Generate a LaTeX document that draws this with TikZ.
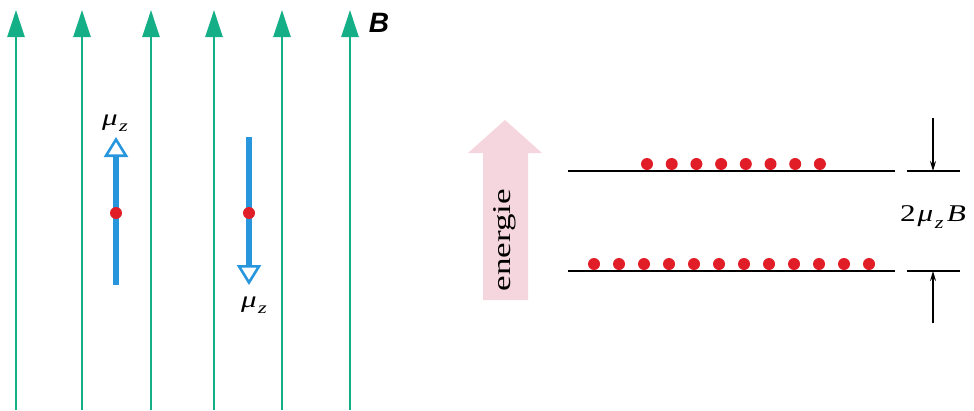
\documentclass[tikz,border=0pt]{standalone}
\usepackage{fontspec}
\setmainfont{Liberation Serif}
\newfontfamily\labsans{Liberation Sans}
\usetikzlibrary{arrows.meta}
\definecolor{fieldgreen}{RGB}{20,175,135}
\definecolor{momblue}{RGB}{40,150,220}
\definecolor{dotred}{RGB}{225,30,40}
\definecolor{energypink}{RGB}{246,214,222}
\newcommand{\muzlab}[1]{{\fontsize{#1}{#1}\selectfont\itshape μ\kern0.05em\raisebox{-0.28em}{\fontsize{0.72\dimexpr#1pt\relax}{1}\selectfont z}}}
\begin{document}
\begin{tikzpicture}[x=1pt,y=-1pt,
 fieldline/.style={draw=fieldgreen,line width=2.4pt,-{Triangle[length=27pt,width=17pt]}},
 moment/.style={draw=momblue,line width=6pt,-{Triangle[open,length=20pt,width=24pt,line width=2.6pt,fill=white]}},
 particle/.style={circle,fill=dotred,inner sep=0pt,minimum size=12pt},
 level/.style={draw=black,line width=1.8pt},
 gap/.style={draw=black,line width=1.4pt,-{Stealth[length=10pt,width=6pt]}},
 lbl/.style={inner sep=0pt}]
\useasboundingbox (0,0) rectangle (974,410);
% field lines
\foreach \x [count=\k] in {16,82,151,214,282,350}{
  \coordinate (gb\k) at (\x,410);
  \coordinate (gt\k) at (\x,10);
  \draw[fieldline] (gb\k) -- (gt\k);
}
\node[lbl] (Blab) at (379,23) {\labsans\bfseries\itshape\fontsize{28}{28}\selectfont B};
% magnetic moments
\coordinate (m1b) at (116,285);
\coordinate (m1t) at (116,137);
\draw[moment] (m1b) -- (m1t);
\node[particle] (c1) at (116,213) {};
\node[lbl] (mu1) at (115,123) {\scalebox{1.35}[1]{\muzlab{23}}};
\coordinate (m2t) at (249,137);
\coordinate (m2b) at (249,285);
\draw[moment] (m2t) -- (m2b);
\node[particle] (c2) at (249,213) {};
\node[lbl] (mu2) at (254,305) {\scalebox{1.35}[1]{\muzlab{23}}};
% energy arrow
\fill[energypink] (483,300) -- (483,153) -- (468,153) -- (505,120) -- (542,153) -- (528,153) -- (528,300) -- cycle;
\node[lbl,rotate=90] (en) at (505,240) {\scalebox{1.17}[0.85]{\fontsize{30}{30}\selectfont energie}};
% levels
\coordinate (u1) at (568,171); \coordinate (u2) at (895,171);
\coordinate (us1) at (907,171); \coordinate (us2) at (960,171);
\coordinate (l1) at (568,271); \coordinate (l2) at (895,271);
\coordinate (ls1) at (907,271); \coordinate (ls2) at (960,271);
\draw[level] (u1) -- (u2);
\draw[level] (us1) -- (us2);
\draw[level] (l1) -- (l2);
\draw[level] (ls1) -- (ls2);
\foreach \i in {0,...,7}{
  \node[particle] (up\i) at ({647+\i*24.7},164) {};
}
\foreach \i in {0,...,11}{
  \node[particle] (lo\i) at ({594+\i*25},264) {};
}
% gap arrows
\coordinate (da) at (933,118); \coordinate (dt) at (933,171);
\coordinate (ua) at (933,323); \coordinate (ut) at (933,271);
\draw[gap] (da) -- (dt);
\draw[gap] (ua) -- (ut);
\node[lbl] (glab) at (933,217) {\scalebox{1.3}[1]{\fontsize{24}{24}\selectfont 2\kern0.06em\muzlab{24}\kern0.1em{\itshape B}}};
\end{tikzpicture}
\end{document}
